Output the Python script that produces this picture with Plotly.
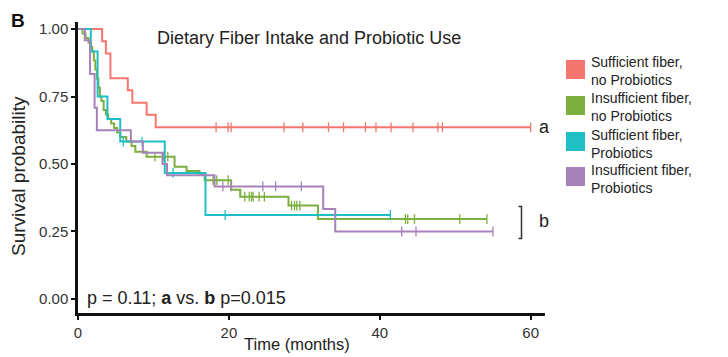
import numpy as np
import plotly.graph_objects as go

# ---------------- data ----------------
groups = ["Sufficient fiber, no Probiotics", "Insufficient fiber, no Probiotics",
          "Sufficient fiber, Probiotics", "Insufficient fiber, Probiotics"]
legend_line1 = ["Sufficient fiber,", "Insufficient fiber,", "Sufficient fiber,", "Insufficient fiber,"]
legend_line2 = ["no Probiotics", "no Probiotics", "Probiotics", "Probiotics"]
colors = ["#F4766E", "#7DAF3F", "#1FBFC5", "#A682BA"]

# red: sufficient fiber, no probiotics
red_time = [0, 3.2, 3.7, 4.3, 6.6, 7.2, 9.1, 10.3]
red_surv = [1.0, 0.955, 0.909, 0.818, 0.773, 0.727, 0.682, 0.636]
red_cens = [18.3, 19.9, 20.3, 27.3, 29.8, 33.2, 35.2, 38.1, 39.5, 41.5, 44.4, 47.7, 48.3, 60.0]

# green: insufficient fiber, no probiotics
green_time = [0, 0.6, 1.0, 1.4, 1.7, 1.9, 2.1, 2.3, 2.5, 2.7, 2.9, 3.1, 3.4, 3.7, 4.0, 4.4,
              4.8, 5.2, 5.6, 6.4, 7.1, 7.6, 9.1, 12.8, 14.4, 16.1, 16.8, 20.3, 21.5, 27.9, 31.8]
green_surv = [1.0, 0.983, 0.967, 0.95, 0.933, 0.917, 0.883, 0.85, 0.817, 0.783, 0.75, 0.733,
              0.70, 0.683, 0.667, 0.65, 0.633, 0.617, 0.60, 0.583, 0.567, 0.545, 0.527, 0.49,
              0.474, 0.459, 0.44, 0.405, 0.379, 0.346, 0.296]
green_cens = [10.2, 11.3, 11.9, 17.9, 18.4, 19.9, 22.1, 22.7, 23.0, 23.2, 24.0, 24.7,
              28.3, 28.7, 29.0, 29.4, 43.4, 43.7, 44.6, 50.6, 54.2]

# cyan: sufficient fiber, probiotics
cyan_time = [0, 1.7, 2.6, 3.9, 5.6, 11.5, 16.9]
cyan_surv = [1.0, 0.917, 0.75, 0.667, 0.583, 0.467, 0.311]
cyan_cens = [6.0, 8.5, 12.6, 19.5, 41.4]

# purple: insufficient fiber, probiotics
purple_time = [0, 0.9, 1.6, 2.2, 2.5, 7.0, 8.6, 11.2, 11.8, 18.1, 32.5, 34.1]
purple_surv = [1.0, 0.958, 0.833, 0.708, 0.625, 0.583, 0.542, 0.5, 0.458, 0.417, 0.333, 0.25]
purple_cens = [19.2, 20.3, 24.5, 26.2, 29.6, 42.9, 44.8, 55.0]

x_ticks = [0, 20, 40, 60]
y_ticks = [0, 0.25, 0.5, 0.75, 1.0]
y_ticklabels = ["0.00", "0.25", "0.50", "0.75", "1.00"]

series = [(red_time, red_surv, red_cens), (green_time, green_surv, green_cens),
          (cyan_time, cyan_surv, cyan_cens), (purple_time, purple_surv, purple_cens)]

# ---------------- layout geometry (reference pixels; page adds an 8px body margin) ----------------
OFF = 8
PAGE_W, PAGE_H = 728, 357
W, H = PAGE_W - OFF, PAGE_H - OFF
L, R, T, B = 78, 545, 22, 313
X_MAX = 61.9
Y_MIN, Y_MAX = -0.052, 1.026


def px(xp):
    return (xp - L) / (R - L)


def py(yp):
    return (B - yp) / (B - T)


fig = go.Figure()
for (t, s, c), col, name in zip(series, colors, groups):
    t = np.asarray(t, float)
    s = np.asarray(s, float)
    c = np.asarray(c, float)
    end = max(t.max(), c.max())
    xs = np.append(t, end)
    ys = np.append(s, s[-1])
    fig.add_trace(go.Scatter(x=xs, y=ys, mode="lines", line=dict(color=col, width=2, shape="hv"),
                             name=name, showlegend=False, hoverinfo="skip"))
    idx = np.searchsorted(t, c, side="right") - 1
    fig.add_trace(go.Scatter(x=c, y=s[idx], mode="markers",
                             marker=dict(symbol="line-ns", size=7, line=dict(color=col, width=1.3)),
                             showlegend=False, hoverinfo="skip"))

font = "Liberation Sans, Arial, sans-serif"
ann = []
ann.append(dict(x=px(309), y=py(38), xref="paper", yref="paper", text="Dietary Fiber Intake and Probiotic Use",
                showarrow=False, font=dict(size=18, color="#222"), xanchor="center", yanchor="middle"))
ann.append(dict(x=px(85), y=py(298), xref="paper", yref="paper",
                text="p = 0.11; <b>a</b> vs. <b>b</b> p=0.015",
                showarrow=False, font=dict(size=18, color="#222"), xanchor="left", yanchor="middle"))
ann.append(dict(x=px(537), y=py(127), xref="paper", yref="paper", text="a",
                showarrow=False, font=dict(size=18, color="#222"), xanchor="left", yanchor="middle"))
ann.append(dict(x=px(537), y=py(221), xref="paper", yref="paper", text="b",
                showarrow=False, font=dict(size=18, color="#222"), xanchor="left", yanchor="middle"))
ann.append(dict(x=px(9), y=py(20), xref="paper", yref="paper", text="<b>B</b>",
                showarrow=False, font=dict(size=19, color="#111"), xanchor="left", yanchor="middle"))
ann.append(dict(x=px(18), y=py(176), xref="paper", yref="paper", text="Survival probability",
                textangle=-90, showarrow=False, font=dict(size=19, color="#222"),
                xanchor="center", yanchor="middle"))
ann.append(dict(x=px(297), y=py(344), xref="paper", yref="paper", text="Time (months)",
                showarrow=False, font=dict(size=16.5, color="#222"), xanchor="center", yanchor="middle"))

shapes = []
# bracket for group b
shapes.append(dict(type="path", xref="paper", yref="paper",
                   path=f"M {px(518.5)} {py(206.5)} L {px(521.5)} {py(206.5)} L {px(521.5)} {py(238.5)} L {px(518.5)} {py(238.5)}",
                   line=dict(color="#333", width=1.5)))

# legend (squares + two-line labels)
sq_centers = [69.5, 105.5, 141.5, 176.5]
for col, l1, l2, yc in zip(colors, legend_line1, legend_line2, sq_centers):
    shapes.append(dict(type="rect", xref="paper", yref="paper", x0=px(566), x1=px(585),
                       y0=py(yc + 9.5), y1=py(yc - 9.5), fillcolor=col, line=dict(width=0)))
    ann.append(dict(x=px(589), y=py(yc + 2), xref="paper", yref="paper", text=l1 + "<br>" + l2,
                    showarrow=False, font=dict(size=14, color="#222"), xanchor="left",
                    yanchor="middle", align="left"))

fig.update_layout(
    width=W, height=H,
    margin=dict(l=L - OFF, r=PAGE_W - R, t=T - OFF, b=PAGE_H - B, pad=0, autoexpand=False),
    paper_bgcolor="white", plot_bgcolor="white",
    font=dict(family=font, color="#222"),
    showlegend=False, annotations=ann, shapes=shapes,
    xaxis=dict(range=[0, X_MAX], tickvals=x_ticks, showgrid=False, zeroline=False, automargin=False,
               showline=True, linecolor="#111", linewidth=2.5, ticks="outside", ticklen=4,
               tickwidth=2, tickcolor="#111", tickfont=dict(size=15, color="#333")),
    yaxis=dict(range=[Y_MIN, Y_MAX], tickvals=y_ticks, ticktext=y_ticklabels, showgrid=False,
               automargin=False,
               zeroline=False, showline=True, linecolor="#111", linewidth=2.5, ticks="outside",
               ticklen=4, tickwidth=2, tickcolor="#111", tickfont=dict(size=15, color="#333")),
)

fig.write_html("out.html")
